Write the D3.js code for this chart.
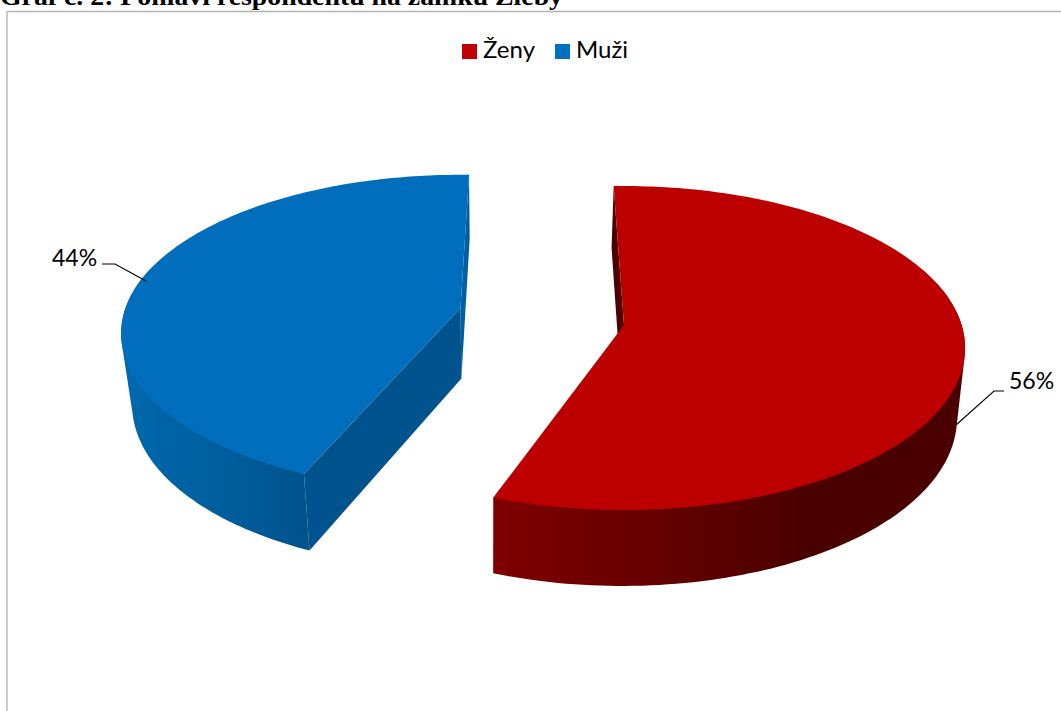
<!DOCTYPE html>
<html><head><meta charset="utf-8">
<script src="https://cdn.jsdelivr.net/npm/d3@7"></script>
<style>html,body{margin:0;padding:0;background:#fff;overflow:hidden}svg{display:block}</style>
</head><body><div id="chart"></div>
<script>
const categories = ["Ženy", "Muži"];
const seriesValues = [56, 44];
const valueLabels = ["56%", "44%"];
const chartTitle = "Graf č. 2: Pohlaví respondentů na zámku Žleby";

const W = 1061, H = 711, deg = Math.PI / 180;
const svg = d3.select("#chart").append("svg").attr("width", W).attr("height", H);
const defs = svg.append("defs");
const FONT = "Lato, 'Open Sans', sans-serif";

// look and perspective geometry of each exploded slice
const looks = [
 {top:"#BC0000", legend:"#C00000", startFace:"#4D0000", endFace:null,
  wall:[[494,"#800000"],[800,"#4B0000"],[960,"#4B0000"]],
  ax:624, ay:325, R:337.6, Rs:158.7, k:0.142, shrink:0.983, hBack:62, hFront:76, turnStart:0, turnEnd:0},
 {top:"#006EBD", legend:"#0070C0", startFace:"#00538C", endFace:"#005FA3",
  wall:[[130,"#0068AD"],[310,"#00538C"]],
  ax:460.5, ay:308, R:335, Rs:154.5, k:0.16, shrink:0.97, hBack:64, hFront:77, turnStart:3.9, turnEnd:3.7}
];
const vanishX = 490;

const pie = d3.pie().sort(null).startAngle(-2*deg).endAngle(358*deg);
const arcs = pie(seriesValues);

function project(g, u, v, lower) {
  const d = 1 - g.k * v;
  const x = g.ax + g.R * u / d, y = g.ay + g.Rs * v / d;
  if (!lower) return [x, y];
  return [vanishX + (x - vanishX) * g.shrink, y + g.hBack + (g.hFront - g.hBack) * (v + 1) / 2];
}
const rim = (g, a, lower) => project(g, Math.sin(a), -Math.cos(a), lower);
const line = d3.line();
const STEPS = 160;

arcs.forEach((arc, i) => {
  const g = looks[i], group = svg.append("g");
  const a0 = arc.startAngle + g.turnStart * deg, a1 = arc.endAngle + g.turnEnd * deg;
  const angs = d3.range(0, STEPS + 1).map(d3.scaleLinear().domain([0, STEPS]).range([a0, a1]));
  const top = angs.map(a => rim(g, a, false));
  const low = angs.map(a => rim(g, a, true));
  const apexT = project(g, 0, 0, false), apexB = project(g, 0, 0, true);

  const gid = "wall" + i;
  const x0 = g.wall[0][0], x1 = g.wall[g.wall.length - 1][0];
  const grad = defs.append("linearGradient").attr("id", gid).attr("gradientUnits", "userSpaceOnUse")
    .attr("x1", x0).attr("x2", x1).attr("y1", 0).attr("y2", 0);
  g.wall.forEach(s => grad.append("stop").attr("offset", (s[0] - x0) / (x1 - x0)).attr("stop-color", s[1]));

  if (g.endFace) group.append("path").attr("fill", g.endFace)
    .attr("d", line([top[STEPS], low[STEPS], apexB, apexT]) + "Z");
  if (i === 0) group.append("path").attr("fill", g.startFace)
    .attr("d", line([top[0], low[0], apexB, apexT]) + "Z");
  // outer wall: convex hull of the front part of both rims; its inner edge hides under the top face
  const front = angs.map((a, j) => j).filter(j => Math.cos(angs[j]) <= 0.3);
  const hull = d3.polygonHull(front.flatMap(j => [top[j], low[j]]));
  group.append("path").attr("fill", `url(#${gid})`).attr("d", line(hull) + "Z");
  if (i === 1) group.append("path").attr("fill", g.startFace)
    .attr("d", line([top[0], low[0], apexB, apexT]) + "Z");
  // top face
  group.append("path").attr("fill", g.top)
    .attr("d", line([apexT].concat(top)) + "Z");
});

// frame
svg.append("path").attr("fill", "none").attr("stroke", "#b3b3b3").attr("stroke-width", 1.3)
  .attr("d", `M${W},11.5H7V${H}`);

// title, clipped by the top of the page as in the reference
svg.append("text").attr("x", 0).attr("y", 5)
  .attr("font-family", "'Liberation Serif', serif").attr("font-weight", "bold").attr("font-size", 25)
  .attr("textLength", 563).attr("lengthAdjust", "spacingAndGlyphs")
  .attr("fill", "#000").text(chartTitle);

// legend
const legendX = d3.scalePoint().domain(categories).range([462, 555]);
const legend = svg.selectAll("g.leg").data(categories).join("g").attr("class", "leg")
  .attr("transform", d => `translate(${legendX(d)},0)`);
legend.append("rect").attr("y", 44).attr("width", 15).attr("height", 15)
  .attr("fill", (d, i) => looks[i].legend);
legend.append("text").attr("x", 21).attr("y", 58).attr("font-family", FONT).attr("font-size", 24)
  .attr("fill", "#000").text(d => d);

// value labels with leaders
const labelPos = [{x:1009, y:389, path:"M1004,391H994L956,425"}, {x:52, y:266, path:"M102,264H115L146,281"}];
valueLabels.forEach((t, i) => {
  svg.append("path").attr("d", labelPos[i].path).attr("fill", "none").attr("stroke", "#000").attr("stroke-width", 1.1);
  svg.append("text").attr("x", labelPos[i].x).attr("y", labelPos[i].y)
    .attr("font-family", FONT).attr("font-size", 23).attr("fill", "#000").text(t);
});
</script></body></html>
